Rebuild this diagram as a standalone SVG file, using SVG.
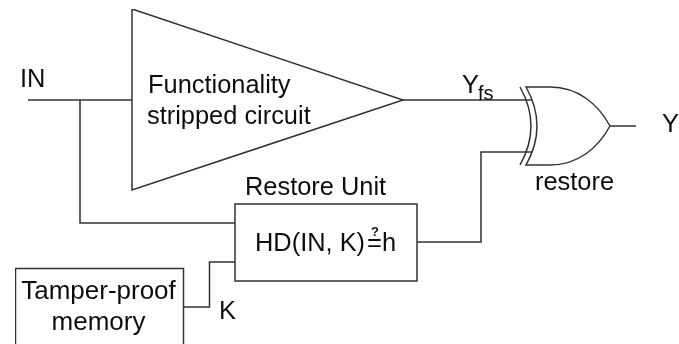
<svg xmlns="http://www.w3.org/2000/svg" width="679" height="344" viewBox="0 0 679 344">
<defs><filter id="soft" x="0" y="0" width="100%" height="100%"><feGaussianBlur stdDeviation="0.35"/></filter></defs>
<style>
text{font-family:"Liberation Sans",Arial,sans-serif;font-size:25.400px;fill:#111}
.s{fill:none;stroke:#333;stroke-width:1.5}
.b{fill:#fff;stroke:#333;stroke-width:1.5}
.m{font-size:26px}
</style>
<rect width="679" height="344" fill="#fff"/>
<g filter="url(#soft)">
<g id="connectors">
<path class="s" d="M28 100H132"/>
<path class="s" d="M80 100V223H235"/>
<path class="s" d="M183.500 307H209.500V262H235"/>
<path class="s" d="M403 100H532"/>
<path class="s" d="M417 242H481V152H533"/>
<path class="s" d="M610 126H636"/>
</g>
<g id="circuit">
<path class="b" d="M132 9L403 100L132 190Z"/>
<text x="148" y="93">Functionality</text>
<text x="147" y="124">stripped circuit</text>
</g>
<g id="restore-unit">
<rect class="b" x="235" y="204" width="182" height="77"/>
<text x="245" y="195">Restore Unit</text>
<text x="255" y="251">HD(IN, K)<tspan x="371" y="236" style="font-size:13px;font-weight:bold">?</tspan><tspan x="367" y="251">=</tspan><tspan x="382" y="251">h</tspan></text>
</g>
<g id="memory">
<rect class="b" x="15.500" y="268.500" width="168" height="90"/>
<text class="m" x="98.500" y="299" text-anchor="middle">Tamper-proof</text>
<text class="m" x="98.500" y="330" text-anchor="middle">memory</text>
</g>
<g id="xor">
<path class="s" d="M520 87Q542 126 520 165"/>
<path class="b" d="M526 87H550C578 87 598 104 610 126C598 148 578 165 550 165H526Q548 126 526 87Z"/>
<text x="535" y="190">restore</text>
</g>
<g id="labels">
<text x="20" y="87">IN</text>
<text x="462" y="93">Y</text>
<text x="478" y="100" style="font-size:20px">fs</text>
<text x="219" y="319">K</text>
<text x="662" y="132">Y</text>
</g>
</g>
</svg>
